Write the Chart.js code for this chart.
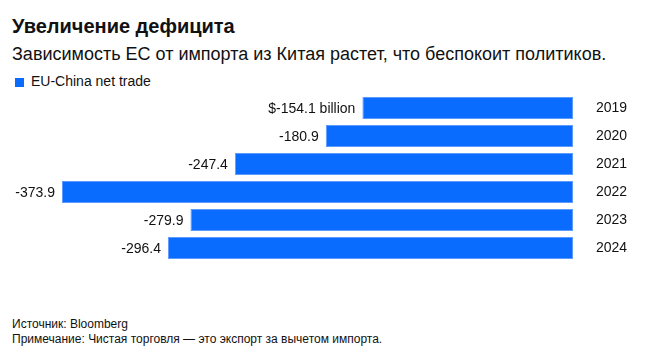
<!DOCTYPE html>
<html>
<head>
<meta charset="utf-8">
<script src="https://cdn.jsdelivr.net/npm/chart.js@4"></script>
<style>
  body { margin: 0; background: #fff; font-family: "Liberation Sans", Arial, sans-serif; color: #111; }
  #wrap { position: relative; width: 666px; height: 362px; overflow: hidden; }
  .txt { position: absolute; left: 12px; white-space: nowrap; }
  #title { top: 16px; font-size: 20px; font-weight: bold; line-height: 20px; }
  #subtitle { top: 45px; font-size: 18px; line-height: 18px; }
  #legend { top: 74px; left: 15px; font-size: 14px; line-height: 14px; }
  #legend span { display: inline-block; width: 9px; height: 9px; background: #0a6cff; margin-right: 7px; vertical-align: -1px; }
  #src { top: 318px; font-size: 12px; line-height: 12px; }
  #note { top: 333px; font-size: 12px; line-height: 12px; }
  #chart { position: absolute; left: 0; top: 94px; }
</style>
</head>
<body>
<div id="wrap">
  <div id="title" class="txt">Увеличение дефицита</div>
  <div id="subtitle" class="txt">Зависимость ЕС от импорта из Китая растет, что беспокоит политиков.</div>
  <div id="legend" class="txt"><span></span>EU-China net trade</div>
  <canvas id="chart" width="666" height="168"></canvas>
  <div id="src" class="txt">Источник: Bloomberg</div>
  <div id="note" class="txt">Примечание: Чистая торговля — это экспорт за вычетом импорта.</div>
</div>
<script>
// Data
const years = ['2019', '2020', '2021', '2022', '2023', '2024'];
const netTrade = [-154.1, -180.9, -247.4, -373.9, -279.9, -296.4];
const BAR_COLOR = '#0a6cff';

// Value labels left of each bar
const valueLabels = {
    id: 'valueLabels',
    afterDatasetsDraw(chart) {
        const ctx = chart.ctx;
        const meta = chart.getDatasetMeta(0);
        ctx.save();
        ctx.font = '14px "Liberation Sans", Arial, sans-serif';
        ctx.fillStyle = '#111';
        ctx.textAlign = 'right';
        ctx.textBaseline = 'middle';
        meta.data.forEach((bar, i) => {
            const v = netTrade[i].toFixed(1);
            const text = i === 0 ? '$' + v + ' billion' : v;
            ctx.fillText(text, bar.x - 7, bar.y + 1);
        });
        ctx.restore();
    }
};

new Chart(document.getElementById('chart'), {
    type: 'bar',
    data: {
        labels: years,
        datasets: [{
            label: 'EU-China net trade',
            data: netTrade,
            backgroundColor: BAR_COLOR,
            borderColor: '#5d9bff',
            borderWidth: 1,
            borderSkipped: false,
            barPercentage: 0.79,
            categoryPercentage: 1
        }]
    },
    options: {
        indexAxis: 'y',
        responsive: false,
        animation: false,
        layout: { padding: { left: 62, top: 0, bottom: 0, right: 0 } },
        plugins: {
            legend: { display: false },
            tooltip: { enabled: false }
        },
        scales: {
            x: {
                display: false,
                min: -373.9,
                max: 0
            },
            y: {
                position: 'right',
                grid: { display: false, drawTicks: false },
                border: { display: false },
                ticks: {
                    padding: 23,
                    color: '#111',
                    font: { family: '"Liberation Sans", Arial, sans-serif', size: 14 }
                },
                afterFit(scale) {
                    scale.width = 93;
                    // tick padding should only push labels sideways
                    scale.paddingTop = 0;
                    scale.paddingBottom = 0;
                }
            }
        }
    },
    plugins: [valueLabels]
});
</script>
</body>
</html>
